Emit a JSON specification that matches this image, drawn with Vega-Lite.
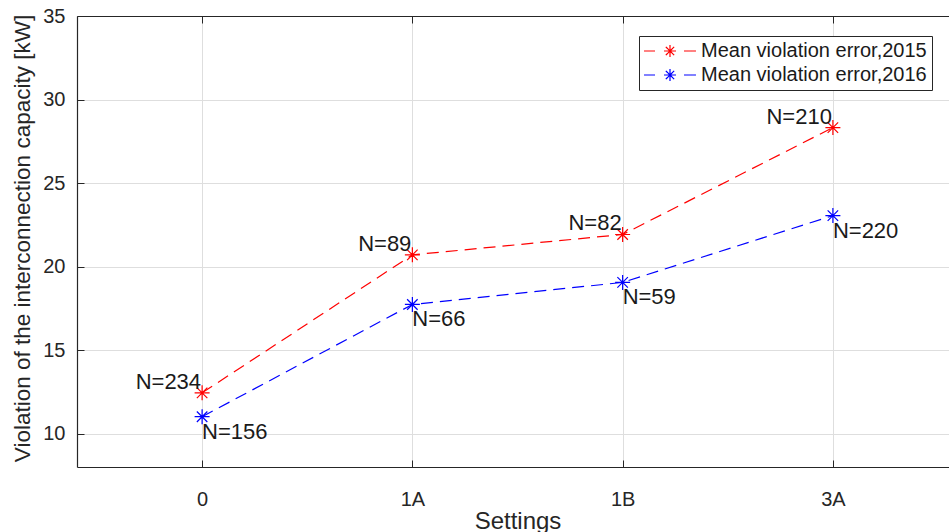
{
  "$schema": "https://vega.github.io/schema/vega-lite/v6.json",
  "autosize": {"type": "none"},
  "padding": {"left": 77, "top": 16, "right": -9, "bottom": 65},
  "width": 881,
  "height": 451,
  "background": "white",
  "config": {"font": "Liberation Sans", "view": {"stroke": null}},
  "data": {
    "values": [
      {"setting": "0", "series": "Mean violation error,2015", "value": 12.44, "label": "N=234"},
      {"setting": "1A", "series": "Mean violation error,2015", "value": 20.7, "label": "N=89"},
      {"setting": "1B", "series": "Mean violation error,2015", "value": 21.92, "label": "N=82"},
      {"setting": "3A", "series": "Mean violation error,2015", "value": 28.32, "label": "N=210"},
      {"setting": "0", "series": "Mean violation error,2016", "value": 11.01, "label": "N=156"},
      {"setting": "1A", "series": "Mean violation error,2016", "value": 17.73, "label": "N=66"},
      {"setting": "1B", "series": "Mean violation error,2016", "value": 19.05, "label": "N=59"},
      {"setting": "3A", "series": "Mean violation error,2016", "value": 23.05, "label": "N=220"}
    ]
  },
  "resolve": {"axis": {"x": "independent"}},
  "layer": [
    {
      "mark": {"type": "line", "strokeDash": [12, 7], "strokeWidth": 1.2},
      "encoding": {
        "x": {
          "field": "setting", "type": "ordinal",
          "scale": {"type": "point", "domain": ["0", "1A", "1B", "3A"], "padding": 0.595},
          "axis": {
            "orient": "bottom", "title": "Settings", "titleFontSize": 24, "titleFontWeight": "normal",
            "titleColor": "#262626", "titleBaseline": "alphabetic", "titleY": 61,
            "labelFontSize": 20, "labelColor": "#262626", "labelBaseline": "alphabetic", "labelPadding": 45,
            "labelAngle": 0, "tickSize": -7, "tickColor": "#262626", "domainColor": "#262626", "domainWidth": 1.2,
            "grid": true, "gridColor": "#dedede", "gridWidth": 1
          }
        },
        "y": {
          "field": "value", "type": "quantitative",
          "scale": {"domain": [8, 35], "nice": false, "zero": false},
          "axis": {
            "values": [10, 15, 20, 25, 30, 35],
            "title": "Violation of the interconnection capacity [kW]", "titleFontSize": 22.5, "titleFontWeight": "normal",
            "titleColor": "#262626", "titleX": -66, "titleY": 222, "titleBaseline": "top", "titleAngle": -90,
            "labelFontSize": 20, "labelColor": "#262626", "labelPadding": 19, "labelFlush": false, "labelOverlap": false,
            "tickSize": -7, "tickColor": "#262626", "domainColor": "#262626", "domainWidth": 1.2,
            "grid": true, "gridColor": "#dedede", "gridWidth": 1
          }
        },
        "color": {
          "field": "series", "type": "nominal",
          "scale": {"domain": ["Mean violation error,2015", "Mean violation error,2016"], "range": ["#ff0000", "#0000ff"]},
          "legend": {
            "title": null, "orient": "none", "legendX": 562, "legendY": 20,
            "fillColor": "white", "strokeColor": "#262626", "padding": 5,
            "symbolType": "M-4.33,0H-2.5M2.33,0H4.33M-1,0H1M0,-1V1M-0.7,-0.7L0.7,0.7M-0.7,0.7L0.7,-0.7",
            "symbolSize": 144, "symbolStrokeWidth": 1.2, "symbolOffset": 16, "labelOffset": 21,
            "labelFontSize": 20, "labelColor": "#1a1a1a", "rowPadding": 4, "labelLimit": 400,
            "symbolDash": [1, 0],
            "encode": {"symbols": {"update": {"strokeDash": {"value": [1, 0]}, "fill": {"value": "transparent"}}}}
          }
        }
      }
    },
    {
      "mark": {"type": "point", "shape": "M-1,0H1M0,-1V1M-0.7,-0.7L0.7,0.7M-0.7,0.7L0.7,-0.7", "filled": false, "size": 225, "strokeWidth": 1.2, "opacity": 1},
      "encoding": {
        "x": {
          "field": "setting", "type": "ordinal",
          "scale": {"type": "point", "domain": ["0", "1A", "1B", "3A"], "padding": 0.595},
          "axis": {
            "orient": "top", "title": null, "labels": false, "tickSize": -7, "tickColor": "#262626",
            "domainColor": "#262626", "domainWidth": 1.2, "grid": false
          }
        },
        "y": {"field": "value", "type": "quantitative"},
        "color": {"field": "series", "type": "nominal"}
      }
    },
    {
      "transform": [{"filter": "datum.series == 'Mean violation error,2015'"}],
      "mark": {"type": "text", "align": "right", "baseline": "alphabetic", "dx": -1, "dy": -4, "fontSize": 22, "color": "#1a1a1a"},
      "encoding": {
        "x": {"field": "setting", "type": "ordinal", "axis": null},
        "y": {"field": "value", "type": "quantitative"},
        "text": {"field": "label"}
      }
    },
    {
      "transform": [{"filter": "datum.series == 'Mean violation error,2016'"}],
      "mark": {"type": "text", "align": "left", "baseline": "top", "dx": 0, "dy": 5, "fontSize": 22, "color": "#1a1a1a"},
      "encoding": {
        "x": {"field": "setting", "type": "ordinal", "axis": null},
        "y": {"field": "value", "type": "quantitative"},
        "text": {"field": "label"}
      }
    }
  ]
}
